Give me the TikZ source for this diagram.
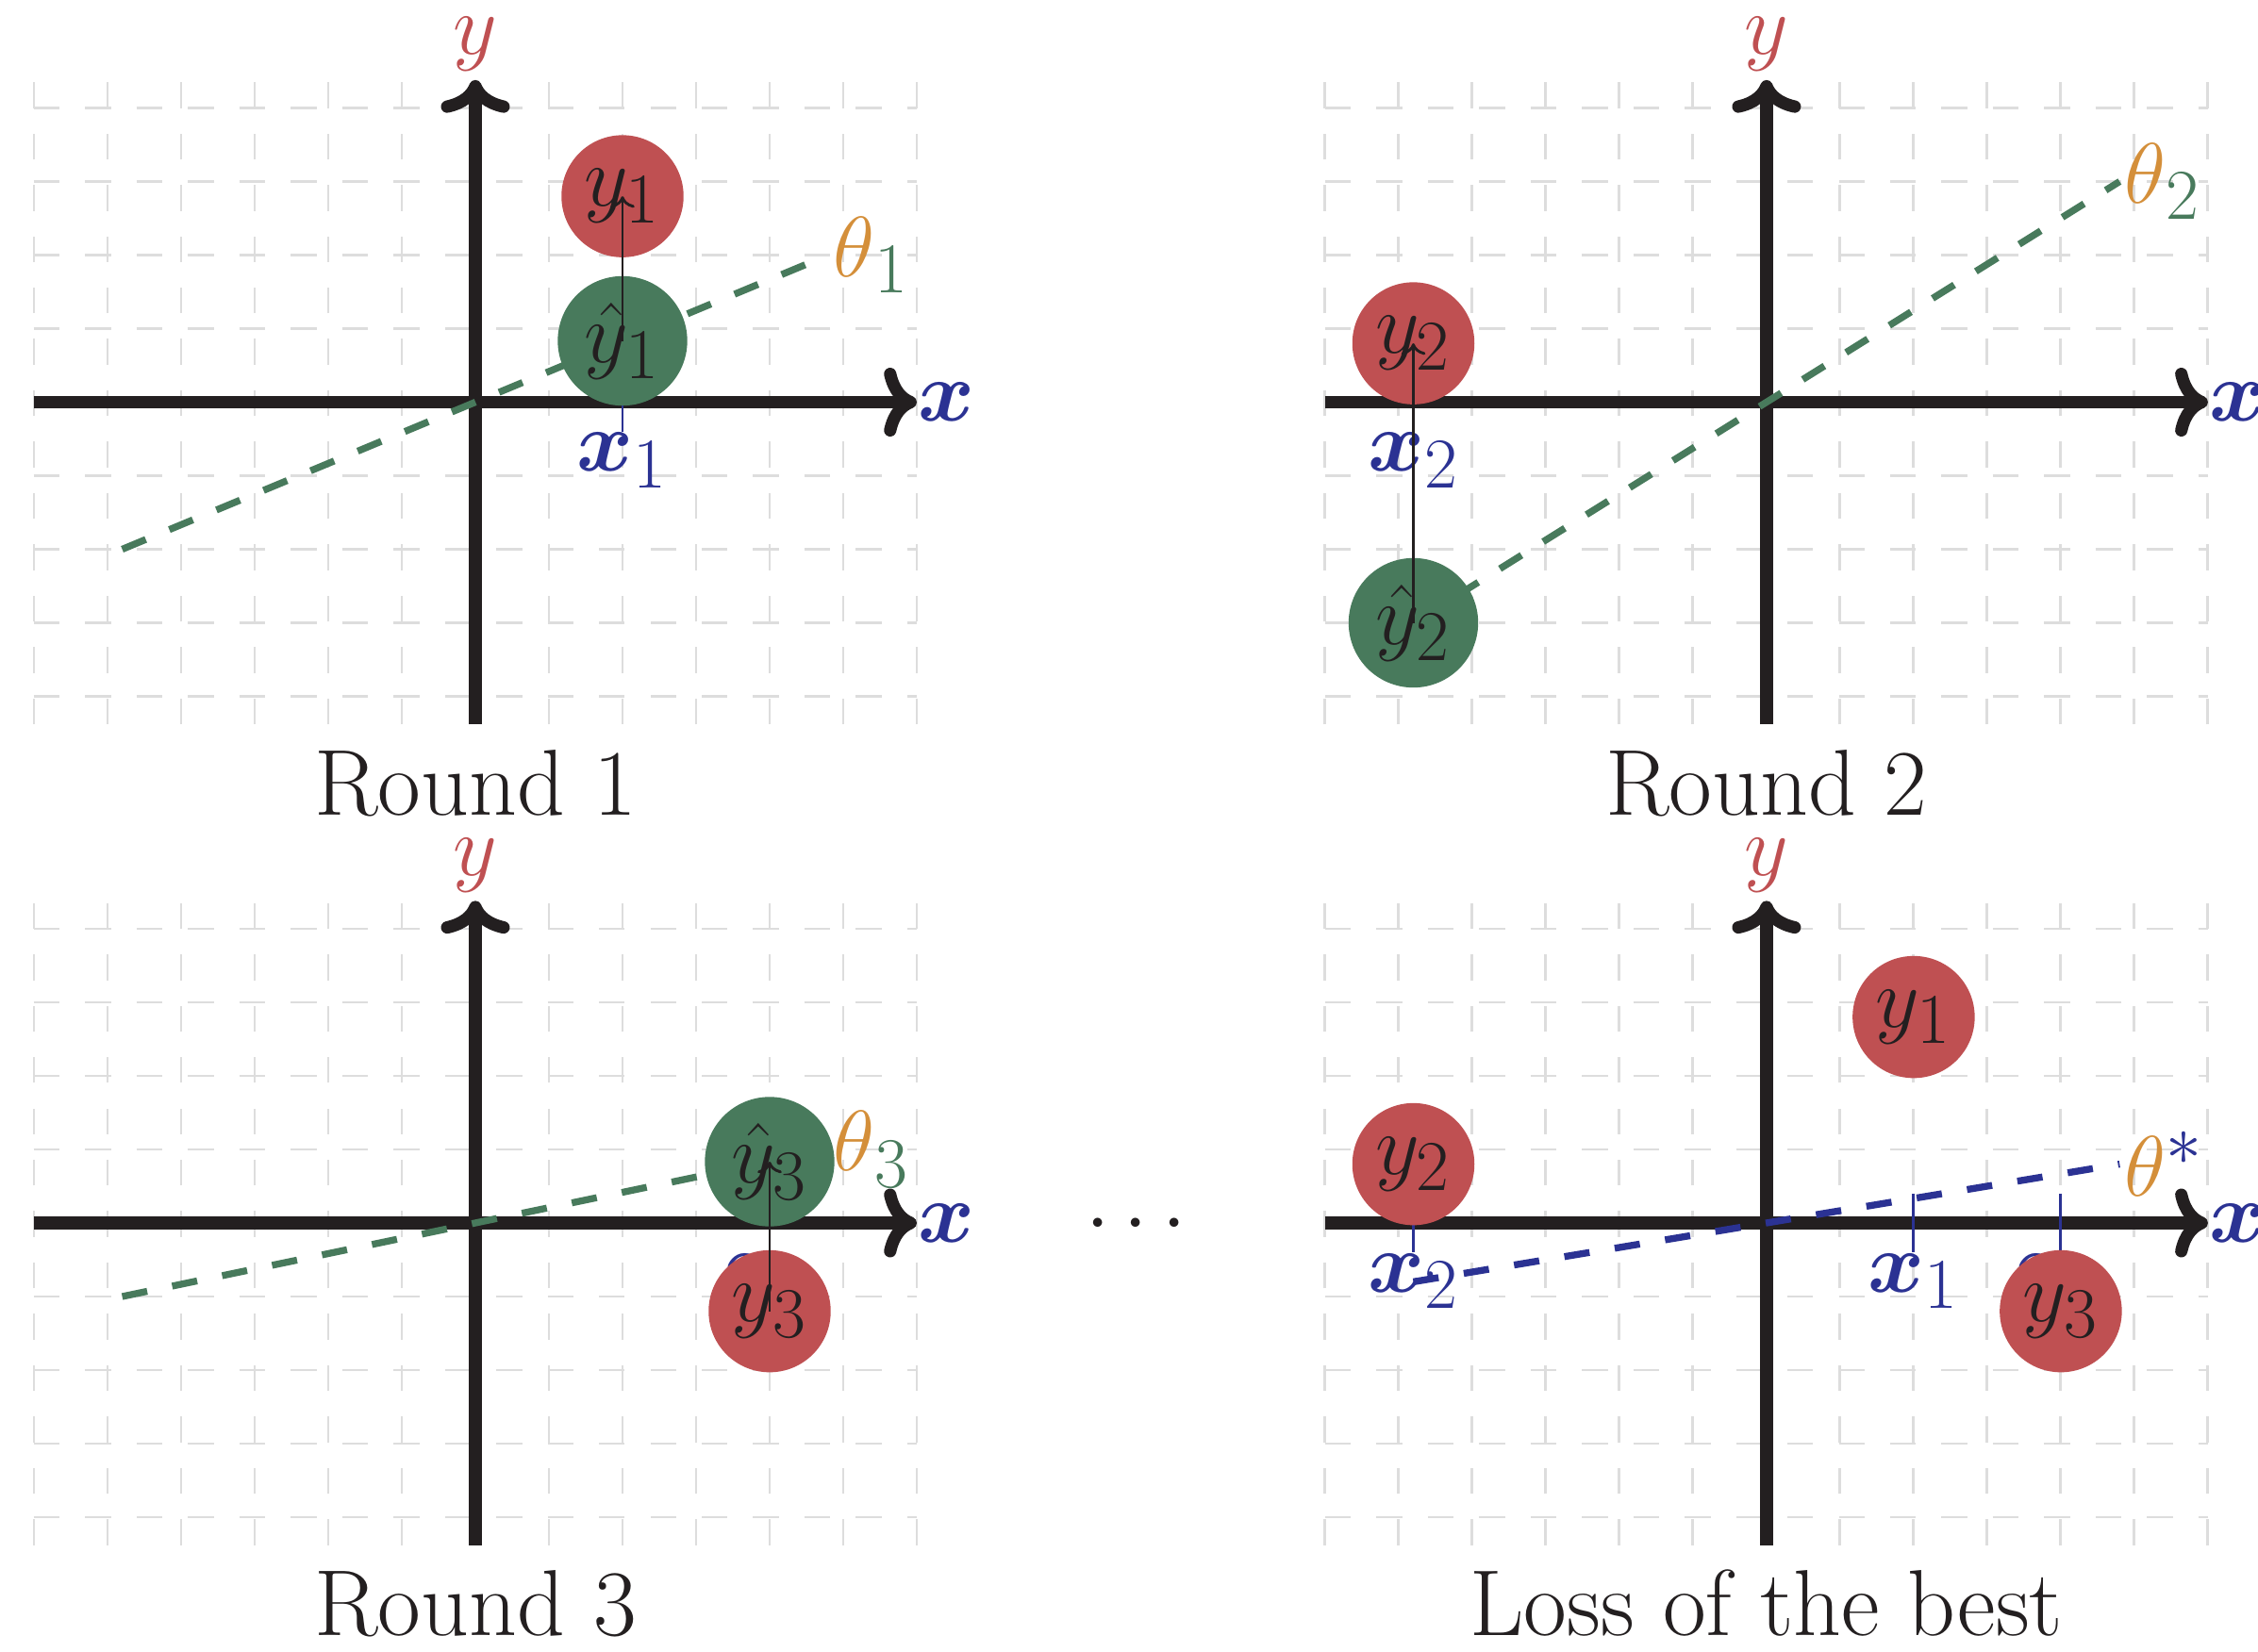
\documentclass[tikz,border=0pt]{standalone}
\usepackage{amsmath,amssymb,bm}
\usepackage{xcolor}
\usetikzlibrary{arrows.meta,positioning,calc}

\definecolor{ptred}{RGB}{191,80,82}
\definecolor{ptgreen}{RGB}{72,122,92}
\definecolor{ptblue}{RGB}{43,50,147}
\definecolor{ptorange}{RGB}{212,143,58}
\definecolor{ptblack}{RGB}{35,31,32}
\definecolor{ptgrid}{RGB}{221,221,221}

\begin{document}
\begin{tikzpicture}[x=0.75cm,y=0.75cm,font=\Huge,every node/.style={text=ptblack}]
\tikzstyle{gridline}=[ptgrid, line width=0.8pt, dash pattern=on 7.5pt off 7.4pt]
\tikzstyle{axis}=[ptblack, line width=3.6pt, ->]
\tikzstyle{truth}=[circle, fill=ptred, inner sep=3.1pt]
\tikzstyle{pred}=[circle, fill=ptgreen, inner sep=2.3pt]
\tikzstyle{fitline}=[line width=2pt, dash pattern=on 7.4pt off 7.4pt]
\tikzstyle{tick}=[ptblue, line width=0.8pt]
\tikzstyle{xlab}=[text=ptblue, anchor=north, inner sep=0pt]
\tikzstyle{gap}=[ptblack, line width=0.8pt, ->]
\tikzstyle{thlab}=[right, inner sep=0.5pt]
\tikzstyle{caption}=[anchor=base, font=\fontsize{27.2}{32}\selectfont]

\useasboundingbox (-6.4615,-16.981) rectangle (24.2308,5.468);

% grid and axes of the four panels
\foreach \px/\py/\p in {0/0/a, 17.55/0/b, 0/-11.16/c, 17.55/-11.16/d} {
  \begin{scope}[shift={(\px,\py)}]
    \foreach \gx in {-6,...,6}
      \draw[gridline] (\gx,-4.38) -- (\gx,4.38);
    \foreach \gy in {-4,...,4}
      \draw[gridline] (-6,\gy) -- (6,\gy);
    \draw[axis] (-6,0) -- (6,0) node[right, inner sep=0pt, xshift=-1.5pt, text=ptblue] (xax\p) {$\bm{x}$};
    \draw[axis] (0,-4.38) -- (0,4.38) node[above, inner sep=0.8pt, text=ptred] (yax\p) {$y$};
  \end{scope}
}

% Round 1
\draw[fitline, ptgreen] (-4.8,-2) -- (4.8,2) node[thlab, text=ptgreen] (tha) {${\color{ptorange}\theta}_1$};
\draw[tick] (2,0.4) -- (2,-0.4) node[xlab] (xa) {$\bm{x}_1$};
\node[pred] (yha) at (2,0.8333) {$\hat{y}_1$};
\node[truth] (ya) at (2,2.8) {$y_1$};
\draw[gap] (yha.center) -- (ya.center);
\node[caption] (rounda) at (0,-5.61) {Round 1};

% Round 2
\begin{scope}[shift={(17.55,0)}]
\draw[fitline, ptgreen] (-4.8,-3) -- (4.8,3) node[thlab, text=ptgreen] (thb) {${\color{ptorange}\theta}_2$};
\draw[tick] (-4.8,0.4) -- (-4.8,-0.4) node[xlab] (xb) {$\bm{x}_2$};
\node[pred] (yhb) at (-4.8,-3) {$\hat{y}_2$};
\node[truth] (yb) at (-4.8,0.8) {$y_2$};
\draw[gap] (yhb.center) -- (yb.center);
\node[caption] (roundb) at (0,-5.61) {Round 2};
\end{scope}

% Round 3
\begin{scope}[shift={(0,-11.16)}]
\draw[fitline, ptgreen] (-4.8,-1) -- (4.8,1) node[thlab, text=ptgreen] (thc) {${\color{ptorange}\theta}_3$};
\draw[tick] (4,0.4) -- (4,-0.4) node[xlab] (xc) {$\bm{x}_3$};
\node[pred] (yhc) at (4,0.8333) {$\hat{y}_3$};
\node[truth] (yc) at (4,-1.2) {$y_3$};
\draw[gap] (yc.center) -- (yhc.center);
\node[caption] (roundc) at (0,-5.61) {Round 3};
\node[anchor=base] (dots) at (9.08,-0.29) {$\cdots$};
\end{scope}

% loss of the best fixed parameter
\begin{scope}[shift={(17.55,-11.16)}]
\draw[tick] (2,0.4) -- (2,-0.4) node[xlab] (xd1) {$\bm{x}_1$};
\draw[tick] (-4.8,0.4) -- (-4.8,-0.4) node[xlab] (xd2) {$\bm{x}_2$};
\draw[tick] (4,0.4) -- (4,-0.4) node[xlab] (xd3) {$\bm{x}_3$};
\draw[fitline, ptblue] (-4.8,-0.8) -- (4.8,0.8) node[thlab, text=ptblue] (thd) {${\color{ptorange}\theta}^*$};
\node[truth] (yd1) at (2,2.8) {$y_1$};
\node[truth] (yd2) at (-4.8,0.8) {$y_2$};
\node[truth] (yd3) at (4,-1.2) {$y_3$};
\node[caption] (roundd) at (0,-5.61) {Loss of the best};
\end{scope}
\end{tikzpicture}
\end{document}
